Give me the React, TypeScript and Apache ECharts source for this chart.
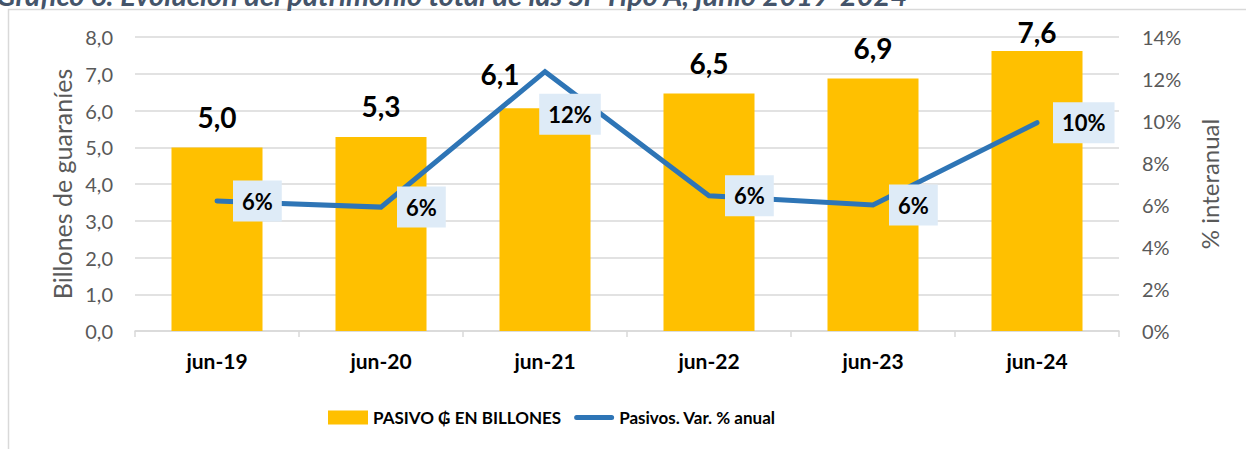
import React, { useEffect, useRef } from "react";
import * as echarts from "echarts";

const categories = ["jun-19", "jun-20", "jun-21", "jun-22", "jun-23", "jun-24"];
const pasivoBillones = [4.99, 5.28, 6.06, 6.46, 6.87, 7.62];
const variacionAnual = [6.19, 5.9, 12.35, 6.44, 6.0, 9.92];
const leftTicks = { min: 0, max: 8, interval: 1 };
const rightTicks = { min: 0, max: 14, interval: 2 };
const titleText = "Gráfico 6: Evolución del patrimonio total de las SF Tipo A, junio 2019-2024";
const barName = "PASIVO ₲ EN BILLONES";
const lineName = "Pasivos. Var. % anual";

const FONT = "Lato, 'DejaVu Sans', sans-serif";

export default function App() {
  const ref = useRef<HTMLDivElement>(null);
  useEffect(() => {
    if (!ref.current) return;
    const chart = echarts.init(ref.current, undefined, { renderer: "svg" });
    const barData = pasivoBillones.map((v, i) => {
      const item: any = { value: v };
      if (i === 2) item.label = { offset: [-45, -3] };
      if (i === 5) item.label = { offset: [0, 12] };
      return item;
    });
    const lineData = variacionAnual.map((v, i) => {
      const item: any = { value: v };
      if (i === 2) item.label = { position: "bottom", distance: 21, offset: [25, 0] };
      return item;
    });
    chart.setOption({
      animation: false,
      textStyle: { fontFamily: FONT },
      graphic: [
        {
          type: "rect",
          shape: { x: 8.5, y: 9.5, width: 1400, height: 600 },
          style: { fill: "none", stroke: "#D9D9D9", lineWidth: 1.5 },
          silent: true,
        },
        {
          type: "text",
          x: -4,
          y: 9,
          style: {
            text: titleText,
            font: `italic bold 29px ${FONT}`,
            fill: "#44546A",
            verticalAlign: "bottom",
          },
          silent: true,
        },
      ],
      grid: { left: 135, right: 127, top: 37, bottom: 118, containLabel: false },
      legend: {
        left: 328,
        top: 409,
        padding: 0,
        itemWidth: 40,
        itemHeight: 14,
        itemGap: 13,
        textStyle: { fontFamily: FONT, fontWeight: "bold", fontSize: 17, color: "#000" },
        data: [
          { name: barName, icon: "rect" },
          {
            name: lineName,
            icon: "path://M2.5,0 h35 a2.5,2.5 0 0 1 0,5 h-35 a2.5,2.5 0 0 1 0,-5 z",
          },
        ],
      },
      xAxis: {
        type: "category",
        data: categories,
        axisLine: { lineStyle: { color: "#D9D9D9", width: 1.5 } },
        axisTick: { show: true, length: 6, lineStyle: { color: "#D9D9D9", width: 1.5 } },
        axisLabel: { fontFamily: FONT, fontWeight: "bold", fontSize: 21, color: "#000", margin: 19 },
      },
      yAxis: [
        {
          type: "value",
          ...leftTicks,
          name: "Billones de guaraníes",
          nameLocation: "middle",
          nameGap: 60,
          nameTextStyle: { fontFamily: FONT, fontSize: 25, color: "#595959" },
          axisLabel: {
            fontFamily: FONT,
            fontSize: 20,
            color: "#595959",
            margin: 22,
            formatter: (v: number) => v.toFixed(1).replace(".", ","),
          },
          axisLine: { show: false },
          axisTick: { show: false },
          splitLine: { lineStyle: { color: "#D9D9D9", width: 1.5 } },
        },
        {
          type: "value",
          ...rightTicks,
          name: "% interanual",
          nameLocation: "middle",
          nameGap: 78,
          nameRotate: 90,
          nameTextStyle: { fontFamily: FONT, fontSize: 24, color: "#595959" },
          axisLabel: {
            fontFamily: FONT,
            fontSize: 20,
            color: "#595959",
            margin: 23,
            formatter: (v: number) => `${Math.round(v)}%`,
          },
          axisLine: { show: false },
          axisTick: { show: false },
          splitLine: { show: false },
        },
      ],
      series: [
        {
          name: barName,
          type: "bar",
          data: barData,
          barWidth: "55.5%",
          itemStyle: { color: "#FFC000" },
          label: {
            show: true,
            position: "top",
            distance: 17,
            fontFamily: FONT,
            fontWeight: "bold",
            fontSize: 28,
            color: "#000",
            formatter: (p: any) => Number(p.value).toFixed(1).replace(".", ","),
          },
          z: 2,
        },
        {
          name: lineName,
          type: "line",
          yAxisIndex: 1,
          data: lineData,
          symbol: "circle",
          symbolSize: 2,
          showSymbol: true,
          lineStyle: { color: "#2E75B6", width: 5, cap: "round", join: "miter" },
          itemStyle: { color: "#2E75B6" },
          label: {
            show: true,
            position: "right",
            distance: 15,
            backgroundColor: "#DEEBF7",
            padding: [10, 9, 9, 9],
            fontFamily: FONT,
            fontWeight: "bold",
            fontSize: 22,
            color: "#000",
            formatter: (p: any) => `${Math.round(Number(p.value))}%`,
          },
          z: 3,
        },
      ],
    });
    return () => chart.dispose();
  }, []);
  return (
    <div
      ref={ref}
      style={{ position: "fixed", left: 0, top: 0, width: 1246, height: 449, background: "#fff" }}
    />
  );
}
